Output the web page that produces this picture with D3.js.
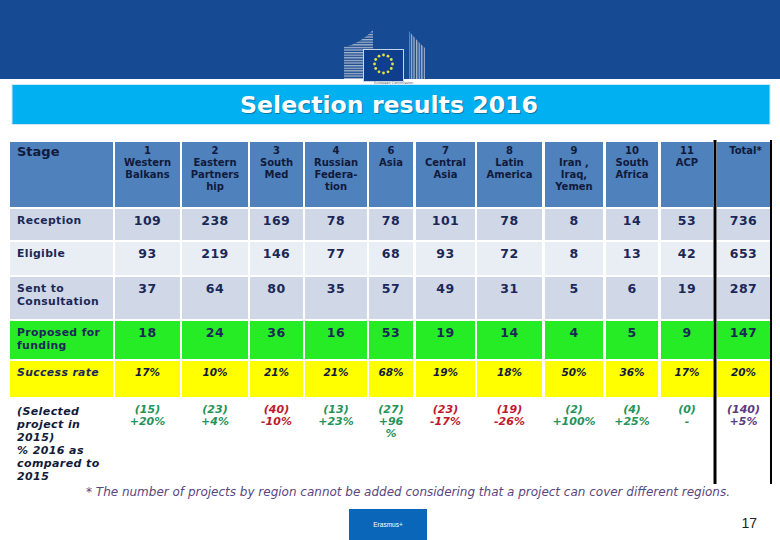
<!DOCTYPE html>
<html><head><meta charset="utf-8">
<script src="https://cdn.jsdelivr.net/npm/d3@7"></script>
<style>body{margin:0;background:#fff}svg{display:block}</style>
</head><body>
<svg id="c" width="780" height="540"></svg>
<script>
// ---------- DATA ----------
const title = "Selection results 2016";
const columns = ["Stage","1","2","3","4","6","7","8","9","10","11","Total"];
const headerLabels = [
  ["Stage"],
  ["1","Western","Balkans"],
  ["2","Eastern","Partners","hip"],
  ["3","South","Med"],
  ["4","Russian","Federa-","tion"],
  ["6","Asia"],
  ["7","Central","Asia"],
  ["8","Latin","America"],
  ["9","Iran ,","Iraq,","Yemen"],
  ["10","South","Africa"],
  ["11","ACP"],
  ["Total*"]
];
const stageLabels = [["Reception"],["Eligible"],["Sent to","Consultation"],["Proposed for","funding"],["Success rate"],["(Selected","project in","2015)","% 2016 as","compared to","2015"]];
const reception = [109,238,169,78,78,101,78,8,14,53,736];
const eligible  = [93,219,146,77,68,93,72,8,13,42,653];
const sentToConsultation = [37,64,80,35,57,49,31,5,6,19,287];
const proposedForFunding = [18,24,36,16,53,19,14,4,5,9,147];
const successRate = ["17%","10%","21%","21%","68%","19%","18%","50%","36%","17%","20%"];
const selected2015 = [15,23,40,13,27,23,19,2,4,0,140];
const change2016vs2015 = ["+20%","+4%","-10%","+23%","+96%","-17%","-26%","+100%","+25%","-","+5%"];
const footnote = "* The number of projects by region cannot be added considering that a project can cover different regions.";
const pageNumber = "17";

// ---------- LAYOUT ----------
const svg = d3.select("#c");
const FONT = "Verdana, 'DejaVu Sans', sans-serif";
const colLeft  = [10,115,182,250,305,369,416,477,545,606,661,717];
const colRight = [113,180,248,303,367,413,475,542,603,658,713,770];
const xL = d3.scaleOrdinal().domain(columns).range(colLeft);
const xR = d3.scaleOrdinal().domain(columns).range(colRight);
const rowKeys = ["header","reception","eligible","sent","proposed","success","compare"];
const yT = d3.scaleOrdinal().domain(rowKeys).range([142,209,242,277,321,361,397]);
const yB = d3.scaleOrdinal().domain(rowKeys).range([207,240,275,319,359,397,485]);
const rowFill = d3.scaleOrdinal().domain(rowKeys).range(["#4f81bd","#d0d8e8","#e9edf4","#d0d8e8","#26ec26","#ffff00","none"]);
const navy = "#1b2857";

// top band
svg.append("rect").attr("x",0).attr("y",0).attr("width",780).attr("height",79).attr("fill","#164a92");

// logo
const defs = svg.append("defs");
const pat = defs.append("pattern").attr("id","stripes").attr("width",4).attr("height",2.6).attr("patternUnits","userSpaceOnUse");
pat.append("rect").attr("width",4).attr("height",2.6).attr("fill","#164a92");
pat.append("rect").attr("width",4).attr("height",1.3).attr("fill","#a9b6cc");
const pat2 = defs.append("pattern").attr("id","vstripes").attr("width",2.6).attr("height",4).attr("patternUnits","userSpaceOnUse");
pat2.append("rect").attr("width",2.6).attr("height",4).attr("fill","#164a92");
pat2.append("rect").attr("width",1.3).attr("height",4).attr("fill","#a9b6cc");
svg.append("path").attr("d","M344,47 Q360,44 373,30 L373,79 L344,79 Z").attr("fill","url(#stripes)");
svg.append("path").attr("d","M409,31 Q418,42 425,48 L425,79 L409,79 Z").attr("fill","url(#vstripes)");
svg.append("rect").attr("x",363.5).attr("y",49.5).attr("width",40).attr("height",32).attr("fill","#0f3f8c").attr("stroke","#c8d4e8").attr("stroke-width",1);
const stars = d3.range(12);
svg.selectAll(".star").data(stars).join("circle")
  .attr("cx",d=>383.5+9*Math.cos(d*Math.PI/6))
  .attr("cy",d=>64+9*Math.sin(d*Math.PI/6))
  .attr("r",1.4).attr("fill","#e8e23a");
svg.append("text").attr("x",374).attr("y",84).attr("font-size",3.5).attr("fill","#556").attr("font-family",FONT).text("European Commission");

// title bar
svg.append("rect").attr("x",12).attr("y",84.5).attr("width",758).attr("height",40).attr("fill","#00b0f0").attr("stroke","#cfe8f6").attr("stroke-width",1);
svg.append("text").attr("x",390).attr("y",114).attr("text-anchor","middle").attr("font-family",FONT)
  .attr("font-weight","bold").attr("font-size",23).attr("fill","#1a4a6a").attr("opacity",0.55)
  .attr("textLength",298).attr("lengthAdjust","spacingAndGlyphs").text(title);
svg.append("text").attr("x",389).attr("y",113).attr("text-anchor","middle").attr("font-family",FONT)
  .attr("font-weight","bold").attr("font-size",23).attr("fill","#fff")
  .attr("textLength",298).attr("lengthAdjust","spacingAndGlyphs").text(title);

// cells
const cellRows = ["header","reception","eligible","sent","proposed","success"];
const cells = [];
cellRows.forEach(r=>columns.forEach(c=>cells.push({r,c})));
svg.append("g").selectAll("rect").data(cells).join("rect")
  .attr("x",d=>xL(d.c)).attr("y",d=>yT(d.r))
  .attr("width",d=>xR(d.c)-xL(d.c)).attr("height",d=>yB(d.r)-yT(d.r))
  .attr("fill",d=>rowFill(d.r));

// header text
const hg = svg.append("g").attr("font-family",FONT).attr("font-weight","bold").attr("fill","#111a3a");
headerLabels.forEach((lines,i)=>{
  const c = columns[i];
  if(i===0){
    hg.append("text").attr("x",xL(c)+7).attr("y",yT("header")+14).attr("font-size",13).text(lines[0]);
  } else {
    const cx = (xL(c)+xR(c))/2 + (c==="Total"?2:0);
    lines.forEach((ln,j)=>{
      hg.append("text").attr("x",cx).attr("y",yT("header")+12+j*12).attr("text-anchor","middle")
        .attr("font-size",10).text(ln);
    });
  }
});

// stage labels
const dataRows = ["reception","eligible","sent","proposed","success","compare"];
const lg = svg.append("g").attr("font-family",FONT).attr("font-weight","bold").attr("fill",navy);
stageLabels.forEach((lines,i)=>{
  const r = dataRows[i];
  const italic = (r==="success"||r==="compare");
  lines.forEach((ln,j)=>{
    lg.append("text").attr("x",xL("Stage")+7)
      .attr("y",yT(r)+(r==="compare"?18:15)+j*13)
      .attr("font-size",r==="compare"?11:10.8)
      .attr("font-style",italic?"italic":"normal")
      .attr("letter-spacing",0.4)
      .attr("fill", r==="compare"?"#111a3a":navy)
      .text(ln);
  });
});

// numeric rows
const valueCols = columns.slice(1);
const numRows = [["reception",reception],["eligible",eligible],["sent",sentToConsultation],["proposed",proposedForFunding]];
const vg = svg.append("g").attr("font-family",FONT).attr("font-weight","bold").attr("text-anchor","middle");
numRows.forEach(([r,vals])=>{
  vg.selectAll(null).data(vals).join("text")
    .attr("x",(d,i)=>(xL(valueCols[i])+xR(valueCols[i]))/2)
    .attr("y",yT(r)+16).attr("font-size",12.5).attr("fill",navy).attr("letter-spacing",0.5).text(d=>d);
});
vg.selectAll(null).data(successRate).join("text")
  .attr("x",(d,i)=>(xL(valueCols[i])+xR(valueCols[i]))/2)
  .attr("y",yT("success")+15).attr("font-size",10.5).attr("font-style","italic").attr("fill","#111a3a").text(d=>d);

// comparison row
const colorFor = (s,i)=> valueCols[i]==="Total" ? "#5b3a80" : (s.startsWith("-") && s.length>1 ? "#c0182c" : "#24935a");
const cg = svg.append("g").attr("font-family",FONT).attr("font-weight","bold").attr("font-style","italic").attr("font-size",11).attr("text-anchor","middle");
selected2015.forEach((v,i)=>{
  const c = valueCols[i];
  const cx = (xL(c)+xR(c))/2;
  const col = colorFor(change2016vs2015[i],i);
  cg.append("text").attr("x",cx).attr("y",yT("compare")+16).attr("fill",col).text("("+v+")");
  const t = cg.append("text").attr("x",cx).attr("y",yT("compare")+28).attr("fill",col).text(change2016vs2015[i]);
  const w = t.node().getComputedTextLength();
  if(w > (xR(c)-xL(c)) - 14 && change2016vs2015[i].endsWith("%")){
    t.text(change2016vs2015[i].slice(0,-1));
    cg.append("text").attr("x",cx).attr("y",yT("compare")+40).attr("fill",col).text("%");
  }
});

// black vertical lines
svg.append("line").attr("x1",715).attr("x2",715).attr("y1",140).attr("y2",484).attr("stroke","#000").attr("stroke-width",3);
svg.append("line").attr("x1",771).attr("x2",771).attr("y1",140).attr("y2",484).attr("stroke","#000").attr("stroke-width",2);

// footnote
svg.append("text").attr("x",86).attr("y",496).attr("font-family",FONT).attr("font-style","italic")
  .attr("font-size",12.5).attr("fill","#5a4680").attr("textLength",644).attr("lengthAdjust","spacingAndGlyphs").text(footnote);

// erasmus box
svg.append("rect").attr("x",349).attr("y",509).attr("width",78).attr("height",31).attr("fill","#0a66b8");
svg.append("text").attr("x",388).attr("y",527).attr("text-anchor","middle").attr("font-family","Arial, sans-serif")
  .attr("font-size",6.5).attr("fill","#fff").text("Erasmus+");

// page number
svg.append("text").attr("x",757).attr("y",528).attr("text-anchor","end").attr("font-family","Arial, 'Liberation Sans', sans-serif")
  .attr("font-size",14).attr("fill","#222").text(pageNumber);
</script>
</body></html>
